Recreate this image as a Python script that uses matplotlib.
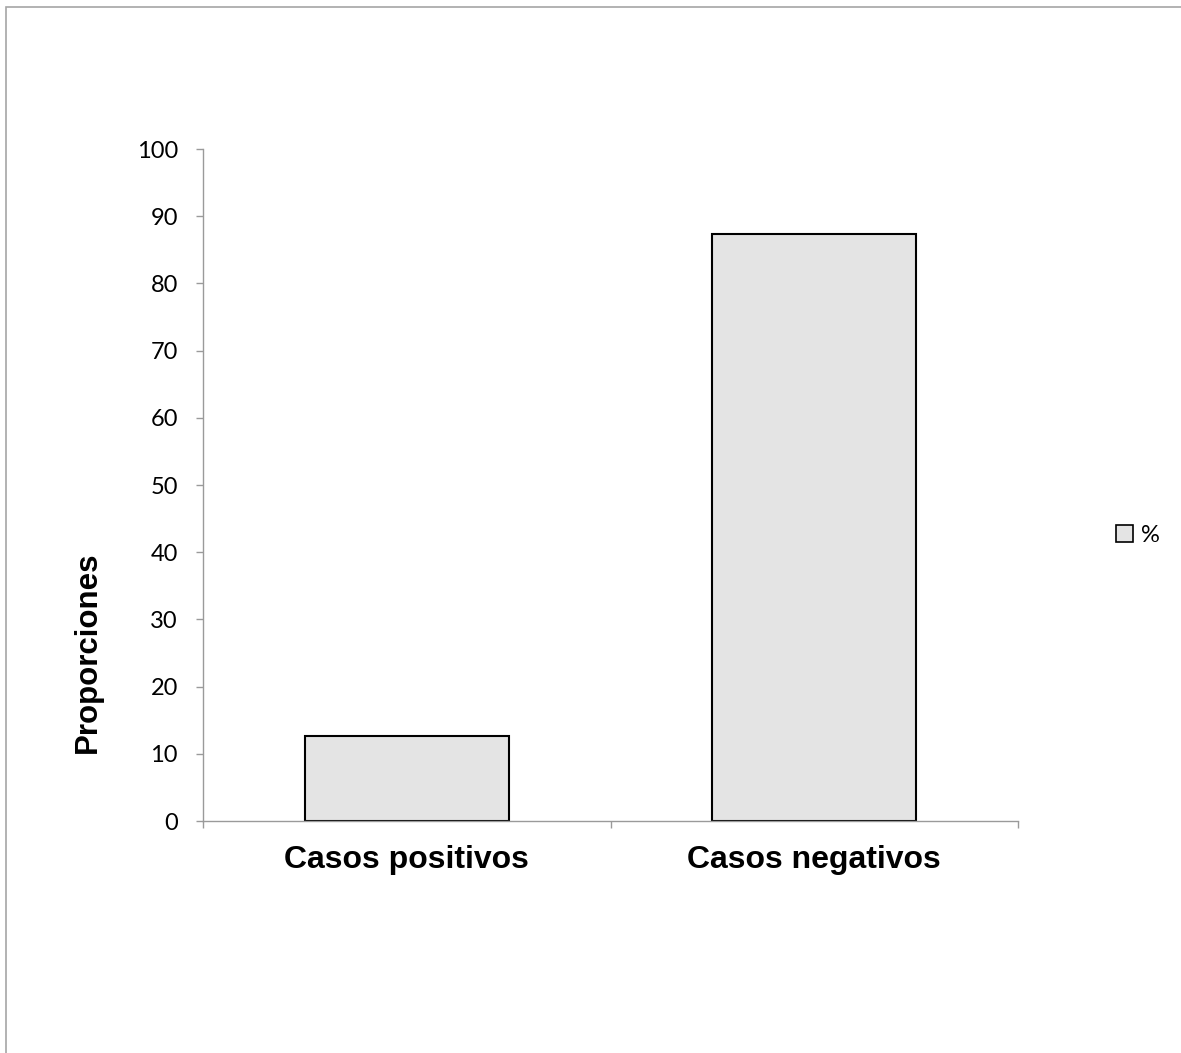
import matplotlib.pyplot as plt
from matplotlib.patches import Patch, Rectangle

# Chart data
categories = ["Casos positivos", "Casos negativos"]
values = [12.7, 87.3]
series_name = "%"
y_ticks = [0, 10, 20, 30, 40, 50, 60, 70, 80, 90, 100]

W, H = 1181, 1053
fig = plt.figure(figsize=(W / 100, H / 100), dpi=100)
ax = fig.add_axes([203 / W, 1 - 821 / H, (1018 - 203) / W, (821 - 149) / H])

bar_fill = "#e4e4e4"
axis_grey = "#9a9a9a"

positions = list(range(len(categories)))
ax.bar(positions, values, width=0.5, color=bar_fill, edgecolor="black",
       linewidth=1.5, zorder=2)

ax.set_xlim(-0.5, len(categories) - 0.5)
ax.set_ylim(0, 100)
ax.set_yticks(y_ticks)
ax.set_yticklabels([str(t) for t in y_ticks], fontfamily="Lato", fontsize=17)

# category labels without tick marks, tick marks on category borders
ax.set_xticks(positions)
ax.set_xticklabels(categories, fontfamily="Liberation Sans", fontweight="bold",
                   fontsize=23)
ax.set_xticks([p - 0.5 for p in positions] + [positions[-1] + 0.5], minor=True)
ax.tick_params(axis="x", which="major", length=0, pad=17)
ax.tick_params(axis="x", which="minor", length=5, width=1, color=axis_grey,
               direction="out")
ax.tick_params(axis="y", length=5, width=1, color=axis_grey, direction="out",
               pad=13)

for side in ["top", "right"]:
    ax.spines[side].set_visible(False)
for side in ["left", "bottom"]:
    ax.spines[side].set_color(axis_grey)
    ax.spines[side].set_linewidth(1)
    ax.spines[side].set_zorder(3)

fig.text(88 / W, 1 - 652 / H, "Proporciones", rotation=90, ha="center",
         va="center", fontfamily="Liberation Sans", fontweight="bold",
         fontsize=22.5)

# legend on the right
handle = Patch(facecolor=bar_fill, edgecolor="black", linewidth=1.2)
fig.legend([handle], [series_name], loc="center left",
           bbox_to_anchor=(1107 / W, 1 - 535 / H), frameon=False,
           prop={"family": "Lato", "size": 17}, handlelength=0.7,
           handleheight=0.7, handletextpad=0.35, borderaxespad=0)

# chart area border (left and top edges visible)
border = Rectangle((5.5 / W, -0.1), 1.2, 1.1 - 6.5 / H,
                   transform=fig.transFigure, fill=False,
                   edgecolor="#a6a6a6", linewidth=1.2, clip_on=False)
fig.patches.append(border)

fig.savefig("out.png", dpi=100)
